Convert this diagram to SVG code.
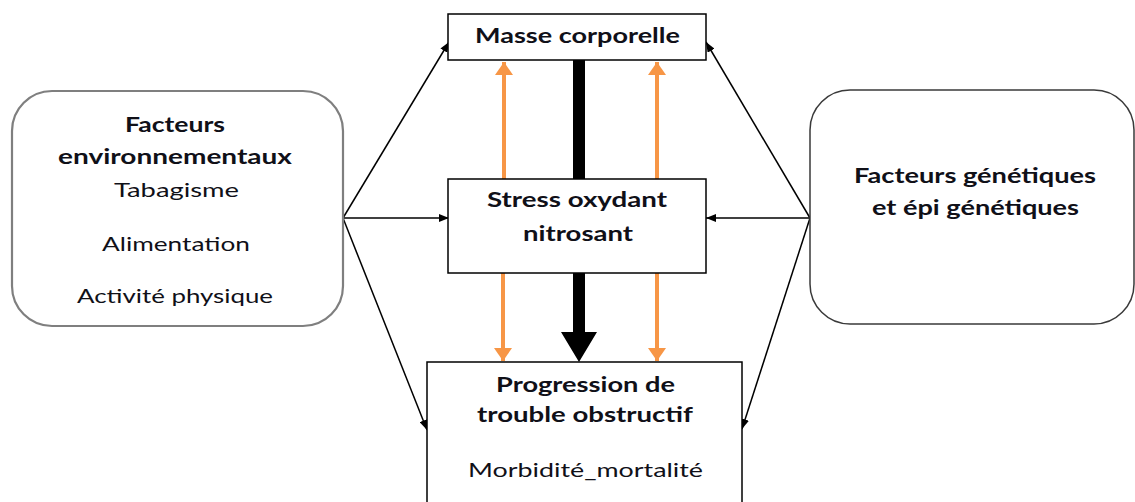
<svg xmlns="http://www.w3.org/2000/svg" width="1135" height="502" viewBox="0 0 1135 502">
  <style>
    .box { fill: #ffffff; stroke: #000000; stroke-width: 1.5; }
    .rbox-l { fill: #ffffff; stroke: #7f7f7f; stroke-width: 2.2; }
    .rbox-r { fill: #ffffff; stroke: #3a3a3a; stroke-width: 1.5; }
    .b { font-family: Lato, "Open Sans", "Liberation Sans", sans-serif; font-weight: bold; font-size: 21px; fill: #101018; }
    .r { font-family: Lato, "Open Sans", "Liberation Sans", sans-serif; font-size: 20px; fill: #101018; }
    .thin { stroke: #000000; stroke-width: 1.5; fill: none; marker-end: url(#ah); }
    .orange { stroke: #F79646; stroke-width: 4; fill: none; marker-end: url(#oh); }
  </style>
  <defs>
    <marker id="ah" viewBox="0 0 10 8" refX="10" refY="4" markerWidth="10" markerHeight="8" markerUnits="userSpaceOnUse" orient="auto">
      <path d="M0,0 L10,4 L0,8 Z" fill="#000000"/>
    </marker>
    <marker id="oh" viewBox="0 0 13 18" refX="13" refY="9" markerWidth="13" markerHeight="18" markerUnits="userSpaceOnUse" orient="auto">
      <path d="M0,0 L13,9 L0,18 Z" fill="#F79646"/>
    </marker>
  </defs>

  <g id="connectors">
    <rect x="573" y="60" width="12" height="119" fill="#000000"/>
    <path d="M573,273 L585,273 L585,332 L597,332 L579,362 L561,332 L573,332 Z" fill="#000000"/>
    <line class="orange" x1="504" y1="179" x2="504" y2="62"/>
    <line class="orange" x1="657" y1="179" x2="657" y2="62"/>
    <line class="orange" x1="503" y1="273" x2="503" y2="361"/>
    <line class="orange" x1="657" y1="273" x2="657" y2="361"/>
    <line class="thin" x1="343" y1="218" x2="449" y2="42"/>
    <line class="thin" x1="343" y1="218" x2="449" y2="218"/>
    <line class="thin" x1="343" y1="218" x2="427" y2="430"/>
    <line class="thin" x1="810" y1="218" x2="706" y2="42"/>
    <line class="thin" x1="810" y1="218" x2="706" y2="218"/>
    <line class="thin" x1="810" y1="218" x2="742" y2="429"/>
  </g>

  <g id="masse">
    <rect class="box" x="448" y="14" width="258" height="46"/>
    <text class="b" x="475" y="43" textLength="205" lengthAdjust="spacingAndGlyphs">Masse corporelle</text>
  </g>

  <g id="stress">
    <rect class="box" x="448" y="179" width="258" height="94"/>
    <text class="b" x="487" y="207" textLength="180" lengthAdjust="spacingAndGlyphs">Stress oxydant</text>
    <text class="b" x="523" y="241" textLength="110" lengthAdjust="spacingAndGlyphs">nitrosant</text>
  </g>

  <g id="progression">
    <rect class="box" x="427" y="362" width="315" height="145"/>
    <text class="b" x="496" y="392" textLength="179" lengthAdjust="spacingAndGlyphs">Progression de</text>
    <text class="b" x="477" y="422" textLength="216" lengthAdjust="spacingAndGlyphs">trouble obstructif</text>
    <text class="r" x="468" y="477" textLength="235" lengthAdjust="spacingAndGlyphs">Morbidité_mortalité</text>
  </g>

  <g id="env">
    <rect class="rbox-l" x="12" y="91" width="331" height="235" rx="40" ry="40"/>
    <text class="b" x="125" y="132" textLength="100" lengthAdjust="spacingAndGlyphs">Facteurs</text>
    <text class="b" x="58" y="164" textLength="234" lengthAdjust="spacingAndGlyphs">environnementaux</text>
    <text class="r" x="114" y="197" textLength="125" lengthAdjust="spacingAndGlyphs">Tabagisme</text>
    <text class="r" x="102" y="251" textLength="148" lengthAdjust="spacingAndGlyphs">Alimentation</text>
    <text class="r" x="77" y="303" textLength="196" lengthAdjust="spacingAndGlyphs">Activité physique</text>
  </g>

  <g id="genetique">
    <rect class="rbox-r" x="810" y="90" width="324" height="234" rx="40" ry="40"/>
    <text class="b" x="854" y="183" textLength="242" lengthAdjust="spacingAndGlyphs">Facteurs génétiques</text>
    <text class="b" x="872" y="215" textLength="207" lengthAdjust="spacingAndGlyphs">et épi génétiques</text>
  </g>
</svg>
